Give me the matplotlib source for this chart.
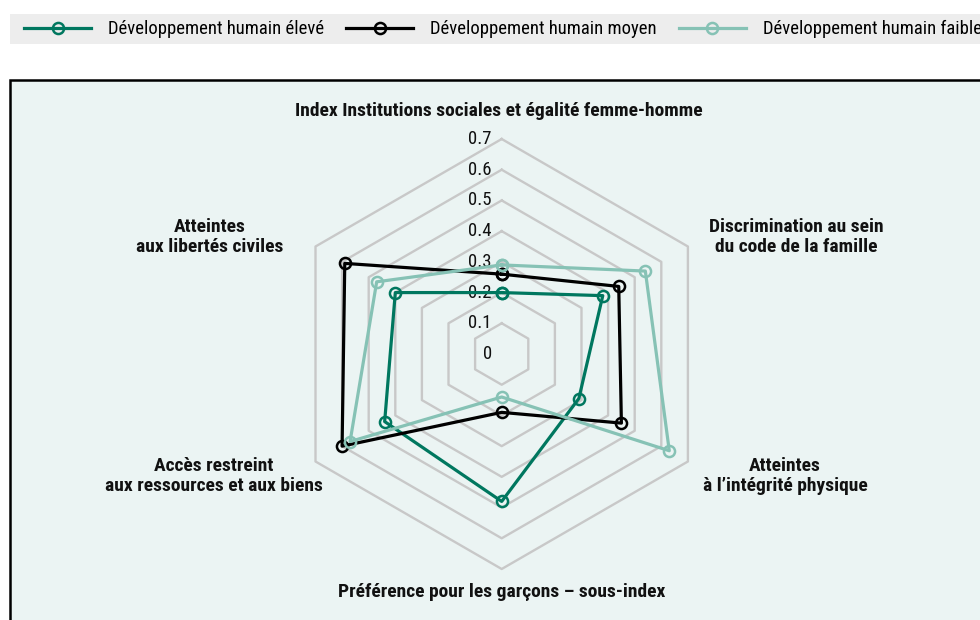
import numpy as np
import matplotlib
matplotlib.use("Agg")
import matplotlib.pyplot as plt
from matplotlib.patches import Rectangle

plt.rcParams['font.family'] = ['Roboto Condensed', 'Liberation Sans', 'DejaVu Sans']

categories = ["Index Institutions sociales et égalité femme-homme",
              "Discrimination au sein\ndu code de la famille",
              "Atteintes\nà l\u2019intégrité physique",
              "Préférence pour les garçons \u2013 sous-index",
              "Accès restreint\naux ressources et aux biens",
              "Atteintes\naux libertés civiles"]
series_names = ["Développement humain élevé", "Développement humain moyen",
                "Développement humain faible"]
eleve = [0.20, 0.38, 0.29, 0.48, 0.44, 0.40]
moyen = [0.26, 0.44, 0.45, 0.19, 0.60, 0.59]
faible = [0.29, 0.54, 0.63, 0.14, 0.57, 0.47]
levels = [0.1, 0.2, 0.3, 0.4, 0.5, 0.6, 0.7]
level_labels = ["0", "0.1", "0.2", "0.3", "0.4", "0.5", "0.6", "0.7"]

colors = ["#00775f", "#000000", "#86c2b5"]
bg = "#ebf4f3"

W, H = 980, 620
fig = plt.figure(figsize=(9.8, 6.2), dpi=100)

# legend band and panel
fig.patches.append(Rectangle((10 / W, 1 - 44 / H), 1, 30 / H, transform=fig.transFigure,
                             facecolor="#ededed", edgecolor="none", zorder=0))
fig.patches.append(Rectangle((10 / W, -0.1), 1.1, 1 - 80 / H + 0.1, transform=fig.transFigure,
                             facecolor=bg, edgecolor="black", lw=1.8, zorder=0))

cx, cy, R = 501.7, 354, 215
ax = fig.add_axes([(cx - R) / W, (H - cy - R) / H, 2 * R / W, 2 * R / H], projection="polar")
ax.set_zorder(2)
ax.set_theta_offset(np.pi / 2)
ax.set_theta_direction(-1)
ax.set_ylim(0, 0.7)
ax.patch.set_visible(False)
ax.spines["polar"].set_visible(False)
ax.grid(False)
ax.set_xticks([])
ax.set_yticks([])

n = len(categories)
theta = np.linspace(0, 2 * np.pi, n, endpoint=False)
theta_c = np.append(theta, theta[0])

for lv in levels:
    ax.plot(theta_c, [lv] * (n + 1), color="#c8c8c8", lw=1.7, zorder=1, clip_on=False)

for i, lab in enumerate(level_labels):
    ax.annotate(lab, (0, i / 10), xytext=(-7, 0), textcoords="offset points",
                ha="right", va="center", fontsize=13.5, color="#111111", zorder=2)

handles = []
for vals, c, name in zip([eleve, moyen, faible], colors, series_names):
    v = np.append(vals, vals[0])
    h, = ax.plot(theta_c, v, color=c, lw=2.3, marker="o", ms=8, mfc="none",
                 mec=c, mew=1.8, zorder=3, clip_on=False, label=name)
    handles.append(h)

label_pos = [(499, 111), (796, 237), (785, 476), (502, 592), (214, 476), (210, 237)]
for lab, (x, y) in zip(categories, label_pos):
    fig.text(x / W, 1 - y / H, lab, ha="center", va="center", fontsize=14,
             fontweight="bold", color="#111111", linespacing=1.2)

fig.legend(handles=handles, loc="center left", bbox_to_anchor=(24 / W, 1 - 29 / H),
           ncol=3, frameon=False, fontsize=13.4, handlelength=3.6, handletextpad=0.9,
           columnspacing=1.2, borderaxespad=0, borderpad=0)

fig.savefig("out.png", dpi=100)
